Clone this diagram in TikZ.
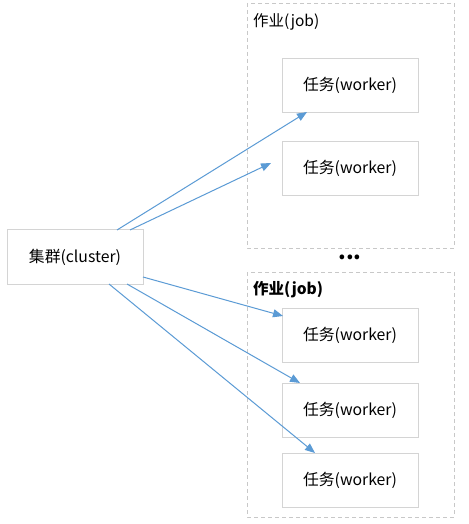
\documentclass[tikz,border=0pt]{standalone}
\usepackage{fontspec}
\setmainfont{Noto Sans CJK SC}
\usetikzlibrary{arrows.meta}
\definecolor{arrowblue}{HTML}{5B9BD5}
\definecolor{boxgray}{HTML}{D4D4D4}
\definecolor{dashgray}{HTML}{C8C8C8}
\begin{document}
\begin{tikzpicture}[x=1pt,y=-1pt,
  workerbox/.style={draw=boxgray,line width=0.8pt,minimum width=136pt,minimum height=54pt,inner sep=0pt,font=\fontsize{15.8}{18}\selectfont},
  jobbox/.style={draw=dashgray,line width=0.8pt,dash pattern=on 4pt off 3pt},
  joblabel/.style={anchor=west,inner sep=0pt,font=\fontsize{15.5}{18}\selectfont},
  conn/.style={draw=arrowblue,line width=1pt,-{Triangle[length=10pt,width=8pt]}}]
\useasboundingbox (0,0) rectangle (468,524);
\fill[white] (0,0) rectangle (468,524);
% job boxes
\draw[jobbox] (247,3) rectangle (454,248);
\draw[jobbox] (247,272) rectangle (454,517);
\node[joblabel] (job1) at (253,22) {作业(job)};
\node[joblabel,font=\fontsize{15.5}{18}\selectfont\bfseries] (job2) at (253,290) {作业(job)};
\node[inner sep=0pt,font=\fontsize{22}{22}\selectfont\bfseries] (dots) at (350,257) {...};
% workers
\node[workerbox] (w1) at (350,85) {任务(worker)};
\node[workerbox] (w2) at (350,168) {任务(worker)};
\node[workerbox] (w3) at (350,335) {任务(worker)};
\node[workerbox] (w4) at (350,410) {任务(worker)};
\node[workerbox] (w5) at (350,480.5) {任务(worker)};
% cluster
\node[workerbox,minimum height=55pt] (cl) at (75,257) {集群(cluster)};
% anchor coordinates
\coordinate (s1) at (117,230);
\coordinate (t1) at (307,112);
\coordinate (s2) at (130,230);
\coordinate (t2) at (271,163);
\coordinate (s3) at (143,277);
\coordinate (t3) at (283,316);
\coordinate (s4) at (127,284);
\coordinate (t4) at (300,383);
\coordinate (s5) at (109,284);
\coordinate (t5) at (315,453);
\draw[conn] (s1) -- (t1);
\draw[conn] (s2) -- (t2);
\draw[conn] (s3) -- (t3);
\draw[conn] (s4) -- (t4);
\draw[conn] (s5) -- (t5);
\end{tikzpicture}
\end{document}
